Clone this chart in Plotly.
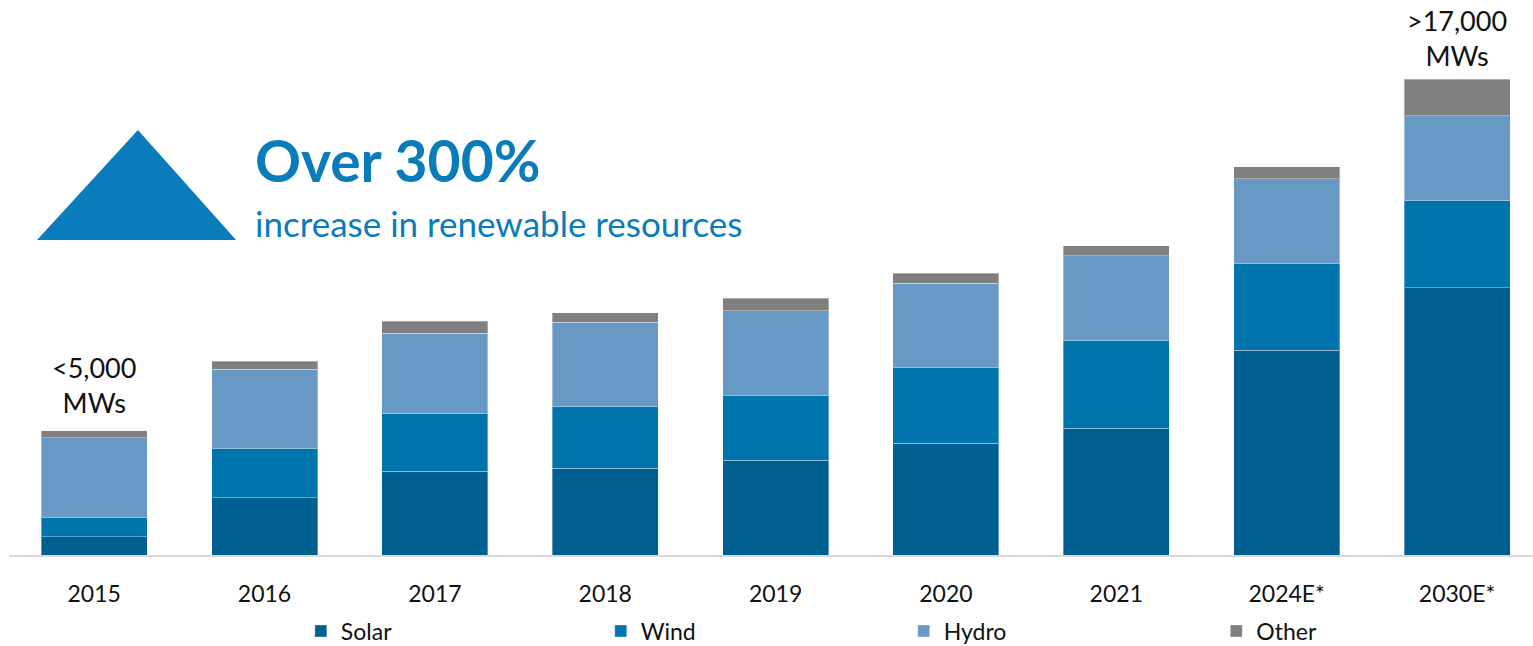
import plotly.graph_objects as go

years = ["2015", "2016", "2017", "2018", "2019", "2020", "2021", "2024E*", "2030E*"]
solar = [650, 2060, 3010, 3120, 3420, 4020, 4570, 7370, 9620]
wind = [700, 1780, 2090, 2220, 2310, 2740, 3170, 3120, 3130]
hydro = [2870, 2850, 2880, 3040, 3070, 3030, 3040, 3050, 3070]
other = [250, 280, 430, 350, 450, 360, 350, 430, 1310]

series_names = ["Solar", "Wind", "Hydro", "Other"]
series_values = [solar, wind, hydro, other]
series_colors = ["#005F91", "#0074AD", "#6899C5", "#7F7F7F"]
legend_ids = ["legend", "legend2", "legend3", "legend4"]
legend_x = [0.1915, 0.3883, 0.5871, 0.7922]

FONT = "Lato"
TEXT = "#111111"
BLUE = "#0A7CBC"

fig = go.Figure()
for name, vals, col, lid in zip(series_names, series_values, series_colors, legend_ids):
    fig.add_trace(go.Bar(
        x=years, y=vals, name=name, legend=lid,
        marker=dict(color=col, line=dict(color="rgba(255,255,255,0.35)", width=1)),
        hoverinfo="x+y+name",
    ))

totals = [s + w + h + o for s, w, h, o in zip(solar, wind, hydro, other)]

layout_legends = {}
for lid, lx in zip(legend_ids, legend_x):
    layout_legends[lid] = dict(
        x=lx, y=-0.152, xref="paper", yref="paper", xanchor="left", yanchor="middle",
        orientation="h", bgcolor="rgba(0,0,0,0)", borderwidth=0,
        font=dict(family=FONT, size=23, color=TEXT),
    )

fig.update_layout(
    width=1533, height=646,
    margin=dict(l=9, r=0, t=55, b=91, autoexpand=False),
    paper_bgcolor="white", plot_bgcolor="white",
    barmode="stack", bargap=0.378,
    showlegend=True,
    font=dict(family=FONT, color=TEXT),
    xaxis=dict(
        type="category", range=[-0.5, 8.446],
        showline=True, linecolor="#D9D9D9", linewidth=1.5,
        showgrid=False, ticks="", ticklabelstandoff=18,
        tickfont=dict(family=FONT, size=23, color=TEXT),
        fixedrange=True, automargin=False,
    ),
    yaxis=dict(range=[0, 18000], visible=False, showgrid=False, fixedrange=True),
    **layout_legends,
)

# total annotations above first and last bars (x given as category index)
fig.add_annotation(x=0, y=totals[0], xref="x", yref="y", text="<5,000<br>MWs",
                   showarrow=False, yanchor="bottom", yshift=10,
                   font=dict(family=FONT, size=27, color=TEXT))
fig.add_annotation(x=len(years) - 1, y=totals[-1], xref="x", yref="y", text=">17,000<br>MWs",
                   showarrow=False, yanchor="bottom", yshift=5,
                   font=dict(family=FONT, size=27, color=TEXT))

# headline
fig.add_shape(type="path", xref="paper", yref="paper",
              path="M 0.0184,0.63 L 0.0846,0.85 L 0.1490,0.63 Z",
              fillcolor=BLUE, line=dict(width=0))
fig.add_annotation(x=(253 - 9) / 1524, y=(555 - 196) / 500, xref="paper", yref="paper",
                   text="<b>Over 300%</b>", showarrow=False, xanchor="left", yanchor="bottom",
                   font=dict(family=FONT, size=57, color=BLUE))
fig.add_annotation(x=(253 - 9) / 1524, y=(555 - 246) / 500, xref="paper", yref="paper",
                   text="increase in renewable resources", showarrow=False,
                   xanchor="left", yanchor="bottom",
                   font=dict(family=FONT, size=35, color=BLUE))

fig.write_html("out.html")
